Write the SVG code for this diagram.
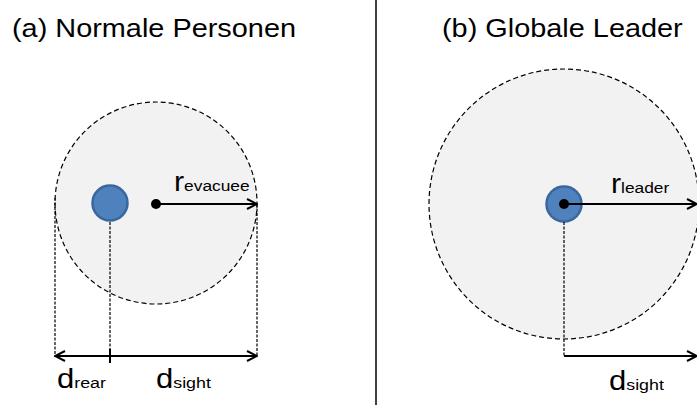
<svg xmlns="http://www.w3.org/2000/svg" width="697" height="405" viewBox="0 0 697 405">
  <style>
    .title { font-family: "Liberation Sans", Arial, sans-serif; font-size: 26.5px; fill: #000; }
    .lbl { font-family: "Liberation Sans", Arial, sans-serif; font-size: 27px; fill: #000; }
    .sub { font-size: 15.5px; }
    .range { fill: #F2F2F2; stroke: #000; stroke-width: 1.2; stroke-dasharray: 5 3; }
    .agent { fill: #4F81BD; stroke: #3A679E; stroke-width: 2.5; }
    .dot { fill: #000; }
    .guide { stroke: #000; stroke-width: 1.2; stroke-dasharray: 3 1.5; fill: none; }
    .arrow { stroke: #000; stroke-width: 2; fill: none; }
  </style>
  <defs>
    <marker id="head" viewBox="0 0 12 12" refX="11" refY="6" markerWidth="12" markerHeight="12" markerUnits="userSpaceOnUse" orient="auto-start-reverse">
      <path d="M1,1 L11,6 L1,11" fill="none" stroke="#000" stroke-width="2"/>
    </marker>
  </defs>

  <rect width="697" height="405" fill="#fff"/>

  <!-- panel divider -->
  <line x1="376" y1="0" x2="376" y2="405" stroke="#000" stroke-width="1.5"/>

  <text class="title" transform="translate(12,37) scale(1.09,1)">(a) Normale Personen</text>
  <text class="title" transform="translate(442,37) scale(1.09,1)">(b) Globale Leader</text>

  <!-- (a) normal evacuee -->
  <g id="range-evacuee">
    <circle class="range" cx="156" cy="203" r="101"/>
  </g>
  <g id="agent-evacuee">
    <circle class="agent" cx="110" cy="203" r="17.5"/>
  </g>

  <!-- (b) global leader -->
  <g id="range-leader">
    <circle class="range" cx="564" cy="204" r="135"/>
  </g>
  <g id="agent-leader">
    <circle class="agent" cx="564" cy="204" r="17.5"/>
  </g>

  <g id="connectors">
    <!-- (a) radius arrow -->
    <circle class="dot" cx="156" cy="204" r="5"/>
    <line class="arrow" x1="156" y1="204" x2="257" y2="204" marker-end="url(#head)"/>
    <!-- (a) extension lines -->
    <line class="guide" x1="55" y1="198" x2="55" y2="357"/>
    <line class="guide" x1="110" y1="222" x2="110" y2="357"/>
    <line class="guide" x1="257" y1="204" x2="257" y2="357"/>
    <!-- (a) distance arrows -->
    <line class="arrow" x1="55" y1="356" x2="110" y2="356" marker-start="url(#head)"/>
    <line class="arrow" x1="110" y1="356" x2="257" y2="356" marker-end="url(#head)"/>
    <line stroke="#000" stroke-width="2" x1="110" y1="349" x2="110" y2="363"/>

    <!-- (b) radius arrow -->
    <circle class="dot" cx="564" cy="204" r="5"/>
    <line class="arrow" x1="564" y1="204" x2="697" y2="204" marker-end="url(#head)"/>
    <!-- (b) extension line and distance arrow -->
    <line class="guide" x1="564" y1="222" x2="564" y2="356"/>
    <line class="arrow" x1="564" y1="356" x2="697" y2="356" marker-end="url(#head)"/>
  </g>

  <text class="lbl" transform="translate(174,191) scale(1.12,1)">r<tspan class="sub">evacuee</tspan></text>
  <text class="lbl" transform="translate(57,388) scale(1.15,1)">d<tspan class="sub">rear</tspan></text>
  <text class="lbl" transform="translate(156,388) scale(1.15,1)">d<tspan class="sub">sight</tspan></text>
  <text class="lbl" transform="translate(611,193) scale(1.12,1)">r<tspan class="sub">leader</tspan></text>
  <text class="lbl" transform="translate(609,390) scale(1.15,1)">d<tspan class="sub">sight</tspan></text>
</svg>
